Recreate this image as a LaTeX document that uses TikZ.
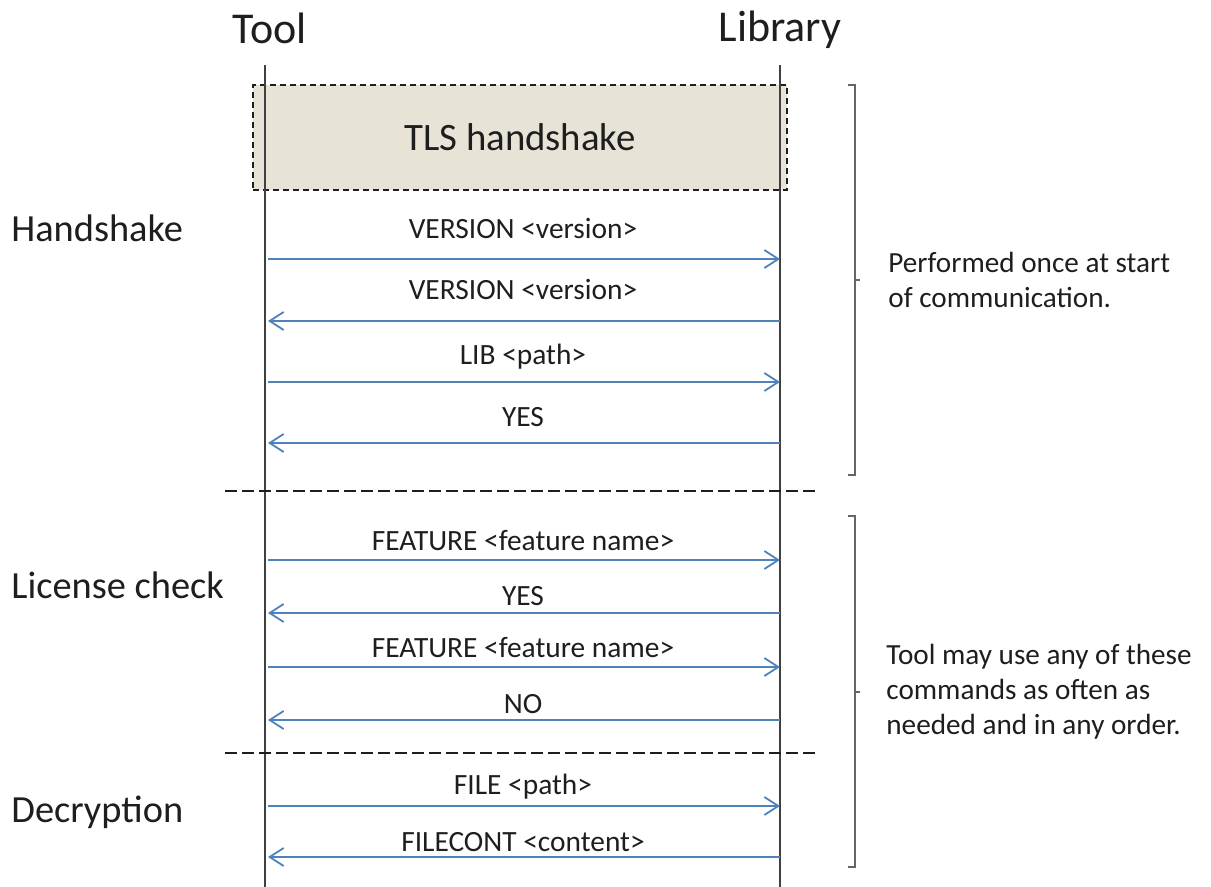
\documentclass[tikz,border=0pt]{standalone}
\usepackage{fontspec}
\setmainfont{Carlito}
\usetikzlibrary{arrows.meta}
\definecolor{msgblue}{HTML}{4F81BD}
\definecolor{lifegray}{HTML}{404040}
\definecolor{tlsfill}{HTML}{E7E3D6}
\definecolor{inkgray}{HTML}{1E1E1E}

\begin{document}
\begin{tikzpicture}[x=0.5pt,y=-0.5pt,
  lifeline/.style={draw=lifegray, line width=1pt},
  msg/.style={draw=msgblue, line width=0.9pt, -{Straight Barb[length=7pt,width=9pt]}},
  msglabel/.style={font=\fontsize{14.7}{17}\selectfont, text=inkgray, inner sep=0pt},
  headlabel/.style={font=\fontsize{22}{26}\selectfont, text=inkgray, inner sep=0pt},
  phaselabel/.style={font=\fontsize{19.2}{23}\selectfont, text=inkgray, inner sep=0pt, anchor=west},
  notelabel/.style={font=\fontsize{14.6}{17.5}\selectfont, text=inkgray, inner sep=0pt, anchor=west, align=left},
  tlsbox/.style={draw=inkgray, fill=tlsfill, dashed, dash pattern=on 3pt off 2pt, line width=0.8pt,
    minimum width=267pt, minimum height=52.5pt, inner sep=0pt, font=\fontsize{19.4}{23}\selectfont, text=inkgray},
  separator/.style={draw=inkgray, line width=1pt, dash pattern=on 6pt off 2.5pt},
  bracket/.style={draw=lifegray!80, line width=0.9pt}
]
\useasboundingbox (0,0) rectangle (1211,887);

% TLS handshake block (drawn first so the lifelines run over it)
\node[tlsbox] (tls) at (520,137.5) {TLS handshake};

% lifelines
\node[headlabel] (toolHead) at (270,28) {Tool};
\node[headlabel] (libHead) at (780,30) {Library};
\coordinate (toolTop) at (265,65);
\coordinate (toolBot) at (265,887);
\coordinate (libTop) at (780,65);
\coordinate (libBot) at (780,887);
\draw[lifeline] (toolTop) -- (toolBot);
\draw[lifeline] (libTop) -- (libBot);

% messages: index / arrow y / label y / text / from / to
\foreach \i/\ya/\yl/\txt/\src/\dst in {
  1/259/228/{VERSION <version>}/t/l,
  2/321/289/{VERSION <version>}/l/t,
  3/382/357/{LIB <path>}/t/l,
  4/443/417/{YES}/l/t,
  5/560/541/{FEATURE <feature name>}/t/l,
  6/613/596/{YES}/l/t,
  7/667/648/{FEATURE <feature name>}/t/l,
  8/720/704/{NO}/l/t,
  9/806/787/{FILE <path>}/t/l,
  10/857/842/{FILECONT <content>}/l/t}{
  \coordinate (t\i) at (268,\ya);
  \coordinate (l\i) at (780,\ya);
  \draw[msg] (\src\i) -- (\dst\i);
  \node[msglabel] (m\i) at (523,\yl) {\txt};
}

% phase separators
\coordinate (sepAw) at (225,491);
\coordinate (sepAe) at (818,491);
\coordinate (sepBw) at (225,753);
\coordinate (sepBe) at (818,753);
\draw[separator] (sepAw) -- (sepAe);
\draw[separator] (sepBw) -- (sepBe);

% phase names
\node[phaselabel] (phHand) at (11,228) {Handshake};
\node[phaselabel] (phLic) at (11,585) {License check};
\node[phaselabel] (phDec) at (11,812) {Decryption};

% right-hand brackets with notes
\draw[bracket] (848,85) -- (855,85) -- (855,475) -- (848,475);
\draw[bracket] (855,280) -- (860,280);
\node[notelabel] (noteA) at (888,280) {Performed once at start\\of communication.};

\draw[bracket] (848,516) -- (855,516) -- (855,867) -- (848,867);
\draw[bracket] (855,692) -- (860,692);
\node[notelabel] (noteB) at (886,692) {Tool may use any of these\\commands as often as\\needed and in any order.};
\end{tikzpicture}
\end{document}
